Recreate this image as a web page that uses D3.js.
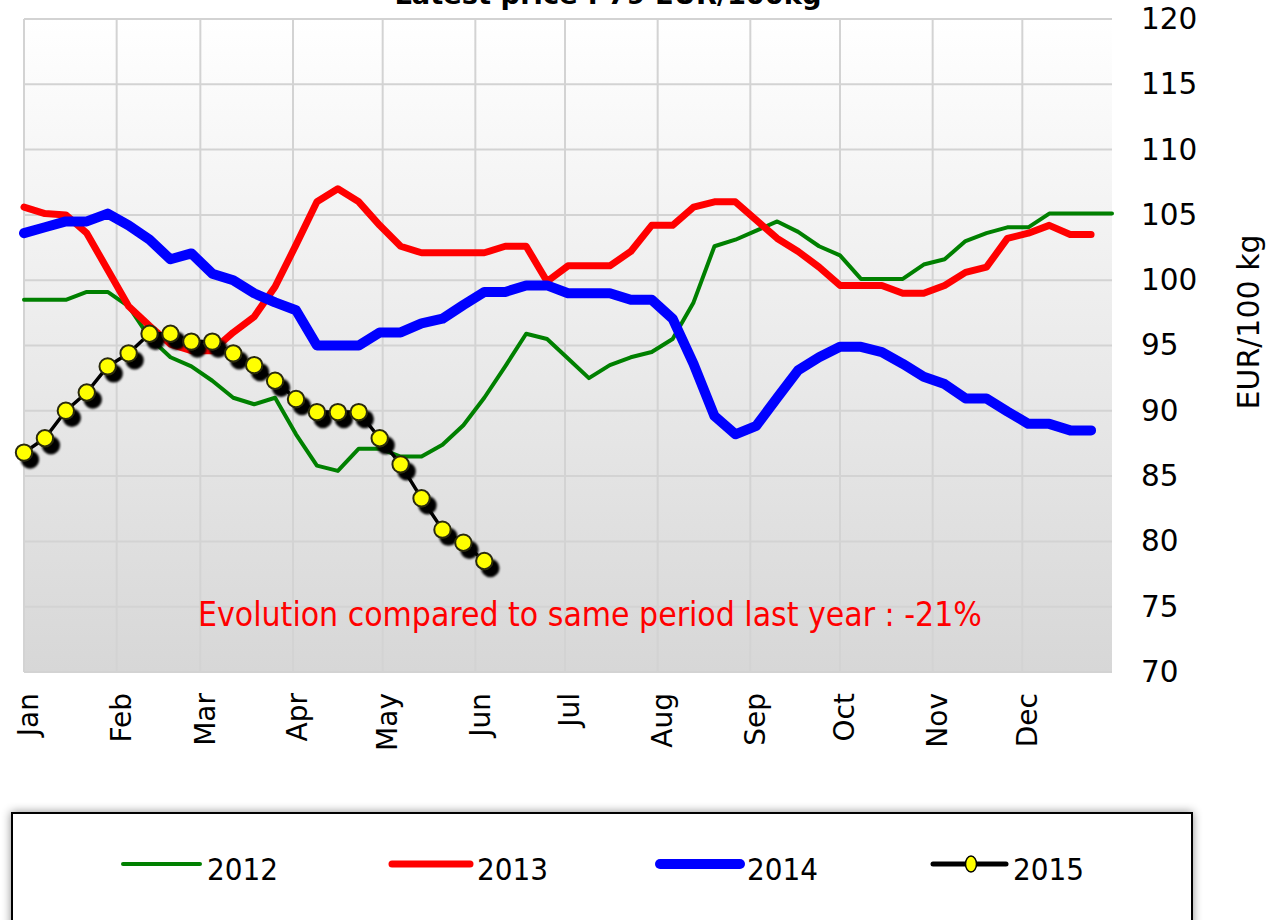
<!DOCTYPE html>
<html>
<head>
<meta charset="utf-8">
<script src="https://cdn.jsdelivr.net/npm/d3@7"></script>
<style>
  body { margin: 0; background: #fff; }
  svg { display: block; }
</style>
</head>
<body>
<div id="chart"></div>
<script>
// weekly prices, EUR/100kg, one value per week starting first week of january
const years = ["2012", "2013", "2014", "2015"];

const prices2012 = [98.5, 98.5, 98.5, 99.1, 99.1, 98.0, 95.6, 94.1, 93.4, 92.3, 91.0, 90.5, 91.0, 88.2,
    85.8, 85.4, 87.1, 87.1, 86.5, 86.5, 87.4, 88.9, 91.0, 93.4, 95.9, 95.5, 94.0, 92.5, 93.5, 94.1,
    94.5, 95.5, 98.3, 102.6, 103.1, 103.8, 104.5, 103.7, 102.6, 101.9, 100.1, 100.1, 100.1, 101.2,
    101.6, 103.0, 103.6, 104.05, 104.05, 105.1, 105.1, 105.1, 105.1];

const prices2013 = [105.6, 105.1, 105.0, 103.6, 100.8, 98.0, 96.5, 95.1, 94.6, 94.6, 96.0, 97.2, 99.5,
    102.7, 106.0, 107.0, 106.0, 104.2, 102.6, 102.1, 102.1, 102.1, 102.1, 102.6, 102.6, 99.9, 101.1,
    101.1, 101.1, 102.2, 104.2, 104.2, 105.6, 106.0, 106.0, 104.6, 103.2, 102.2, 101.0, 99.6, 99.6,
    99.6, 99.0, 99.0, 99.6, 100.6, 101.0, 103.2, 103.6, 104.2, 103.5, 103.5];

const prices2014 = [103.6, 104.05, 104.5, 104.5, 105.1, 104.2, 103.1, 101.6, 102.05, 100.5, 100.0, 99.0,
    98.3, 97.7, 95.0, 95.0, 95.0, 96.0, 96.0, 96.7, 97.05, 98.1, 99.1, 99.1, 99.6, 99.6, 99.0, 99.0,
    99.0, 98.5, 98.5, 97.05, 93.6, 89.6, 88.2, 88.85, 91.0, 93.1, 94.1, 94.9, 94.9, 94.5, 93.6, 92.6,
    92.05, 90.95, 90.95, 89.95, 89.0, 89.0, 88.5, 88.5];

const prices2015 = [86.8, 87.9, 90.0, 91.4, 93.4, 94.4, 95.9, 95.9, 95.3, 95.3, 94.4, 93.5, 92.3, 90.9,
    89.9, 89.9, 89.9, 87.9, 85.9, 83.3, 80.9, 79.9, 78.5];

const monthLabels = ["Jan", "Feb", "Mar", "Apr", "May", "Jun", "Jul", "Aug", "Sep", "Oct", "Nov", "Dec"];
const yTicks = [70, 75, 80, 85, 90, 95, 100, 105, 110, 115, 120];

const titleText = "Latest price : 79 EUR/100kg";
const noteText = "Evolution compared to same period last year : -21%";
const yAxisTitle = "EUR/100 kg";

const colors = { "2012": "#008000", "2013": "#ff0000", "2014": "#0000ff", "2015": "#000000" };
const widths = { "2012": 4, "2013": 7, "2014": 10, "2015": 3.5 };

const seriesList = [prices2012, prices2013, prices2014, prices2015];

// all years drawn on the same calendar (week i = jan 1 + 7*i days)
const baseYear = 2015;
const weekDate = i => d3.timeDay.offset(new Date(baseYear, 0, 1), 7 * i);

const width = 1270, height = 920;
const plot = { left: 24, right: 1112, top: 19, bottom: 672 };

const svg = d3.select("#chart").append("svg")
    .attr("width", width)
    .attr("height", height);

const defs = svg.append("defs");

const grad = defs.append("linearGradient")
    .attr("id", "plotBg")
    .attr("x1", 0).attr("y1", 0).attr("x2", 0).attr("y2", 1);
grad.append("stop").attr("offset", "0%").attr("stop-color", "#ffffff");
grad.append("stop").attr("offset", "100%").attr("stop-color", "#d7d7d7");

// shadow under the 2015 markers
const markerShadow = defs.append("filter").attr("id", "markerShadow")
    .attr("x", "-50%").attr("y", "-50%").attr("width", "200%").attr("height", "200%");
markerShadow.append("feDropShadow")
    .attr("dx", 6).attr("dy", 7).attr("stdDeviation", 1.3)
    .attr("flood-color", "#000").attr("flood-opacity", 1);

const legendShadow = defs.append("filter").attr("id", "legendShadow")
    .attr("x", "-5%").attr("y", "-30%").attr("width", "110%").attr("height", "160%");
legendShadow.append("feDropShadow")
    .attr("dx", 0).attr("dy", 0).attr("stdDeviation", 5)
    .attr("flood-color", "#000").attr("flood-opacity", 0.45);

const x = d3.scaleTime()
    .domain([new Date(baseYear, 0, 1), new Date(baseYear, 11, 31)])
    .range([plot.left, plot.right]);

const y = d3.scaleLinear()
    .domain([70, 120])
    .range([plot.bottom, plot.top]);

const monthStarts = monthLabels.map((m, i) => new Date(baseYear, i, 1));

// plot background
svg.append("rect")
    .attr("x", plot.left)
    .attr("y", plot.top)
    .attr("width", plot.right - plot.left)
    .attr("height", plot.bottom - plot.top)
    .attr("fill", "url(#plotBg)");

// grid
svg.append("g").attr("class", "hgrid")
    .selectAll("line")
    .data(yTicks)
    .enter()
    .append("line")
    .attr("x1", plot.left)
    .attr("x2", plot.right)
    .attr("y1", d => y(d))
    .attr("y2", d => y(d))
    .attr("stroke", "#d3d3d3")
    .attr("stroke-width", 2);

svg.append("g").attr("class", "vgrid")
    .selectAll("line")
    .data(monthStarts)
    .enter()
    .append("line")
    .attr("x1", d => x(d))
    .attr("x2", d => x(d))
    .attr("y1", plot.top)
    .attr("y2", plot.bottom)
    .attr("stroke", "#d3d3d3")
    .attr("stroke-width", 2);

// right axis
const yAxis = d3.axisRight(y)
    .tickValues(yTicks)
    .tickSize(0)
    .tickPadding(0);

const yAxisG = svg.append("g")
    .attr("transform", `translate(${1141},0)`)
    .call(yAxis);
yAxisG.select(".domain").remove();
yAxisG.selectAll("text")
    .attr("font-family", "DejaVu Sans, Verdana, sans-serif")
    .attr("font-size", 29.5)
    .attr("fill", "#000");

svg.append("text")
    .attr("transform", `translate(1259,${322}) rotate(-90)`)
    .attr("text-anchor", "middle")
    .attr("font-family", "DejaVu Sans, Verdana, sans-serif")
    .attr("font-size", 30)
    .text(yAxisTitle);

// month labels, rotated
const xAxis = d3.axisBottom(x)
    .tickValues(monthStarts)
    .tickFormat((d, i) => monthLabels[i])
    .tickSize(0);

const xAxisG = svg.append("g")
    .attr("transform", `translate(0,${plot.bottom})`)
    .call(xAxis);
xAxisG.select(".domain").remove();
xAxisG.selectAll("text")
    .attr("font-family", "DejaVu Sans, Verdana, sans-serif")
    .attr("font-size", 28)
    .attr("fill", "#000")
    .attr("text-anchor", "end")
    .attr("dy", "0.35em")
    .attr("transform", "translate(4,21) rotate(-90)")
    .attr("x", 0)
    .attr("y", 0);

// lines
const line = d3.line()
    .x((d, i) => x(weekDate(i)))
    .y(d => y(d));

svg.append("g").attr("class", "lines")
    .selectAll("path")
    .data(seriesList)
    .enter()
    .append("path")
    .attr("d", d => line(d))
    .attr("fill", "none")
    .attr("stroke", (d, i) => colors[years[i]])
    .attr("stroke-width", (d, i) => widths[years[i]])
    .attr("stroke-linejoin", "round")
    .attr("stroke-linecap", "round");

// 2015 markers
svg.append("g").attr("class", "markers")
    .attr("filter", "url(#markerShadow)")
    .selectAll("circle")
    .data(prices2015)
    .enter()
    .append("circle")
    .attr("cx", (d, i) => x(weekDate(i)))
    .attr("cy", d => y(d))
    .attr("r", 8.2)
    .attr("fill", "#ffff00")
    .attr("stroke", "#2a2a10")
    .attr("stroke-width", 2);

// note inside plot
svg.append("text")
    .attr("x", 590)
    .attr("y", 626)
    .attr("text-anchor", "middle")
    .attr("font-family", "DejaVu Sans Condensed, DejaVu Sans, sans-serif")
    .attr("font-size", 33.4)
    .attr("fill", "#ff0000")
    .text(noteText);

// title, mostly cut off at the top like in the original
svg.append("text")
    .attr("x", 608)
    .attr("y", 4)
    .attr("text-anchor", "middle")
    .attr("font-family", "DejaVu Sans, Verdana, sans-serif")
    .attr("font-weight", "bold")
    .attr("font-size", 27.3)
    .text(titleText);

// legend
svg.append("rect")
    .attr("x", 12)
    .attr("y", 813)
    .attr("width", 1180)
    .attr("height", 130)
    .attr("fill", "#fff")
    .attr("stroke", "#000")
    .attr("stroke-width", 2)
    .attr("filter", "url(#legendShadow)");

const legendX = [123, 392, 660, 933];
const legendLen = [77, 78, 80, 73];

const legend = svg.append("g").attr("class", "legend")
    .selectAll("g")
    .data(years)
    .enter()
    .append("g")
    .attr("transform", (d, i) => `translate(${legendX[i]},864)`);

legend.append("line")
    .attr("x1", 0)
    .attr("x2", (d, i) => legendLen[i])
    .attr("stroke", d => colors[d])
    .attr("stroke-width", d => d === "2015" ? 5 : widths[d])
    .attr("stroke-linecap", "round");

legend.filter(d => d === "2015")
    .append("ellipse")
    .attr("cx", 38)
    .attr("cy", 0)
    .attr("rx", 5.5)
    .attr("ry", 8)
    .attr("fill", "#ffff00")
    .attr("stroke", "#000")
    .attr("stroke-width", 1.5);

legend.append("text")
    .attr("x", (d, i) => legendLen[i] + 7)
    .attr("y", 16)
    .attr("font-family", "DejaVu Sans Condensed, DejaVu Sans, sans-serif")
    .attr("font-size", 31)
    .text(d => d);
</script>
</body>
</html>
